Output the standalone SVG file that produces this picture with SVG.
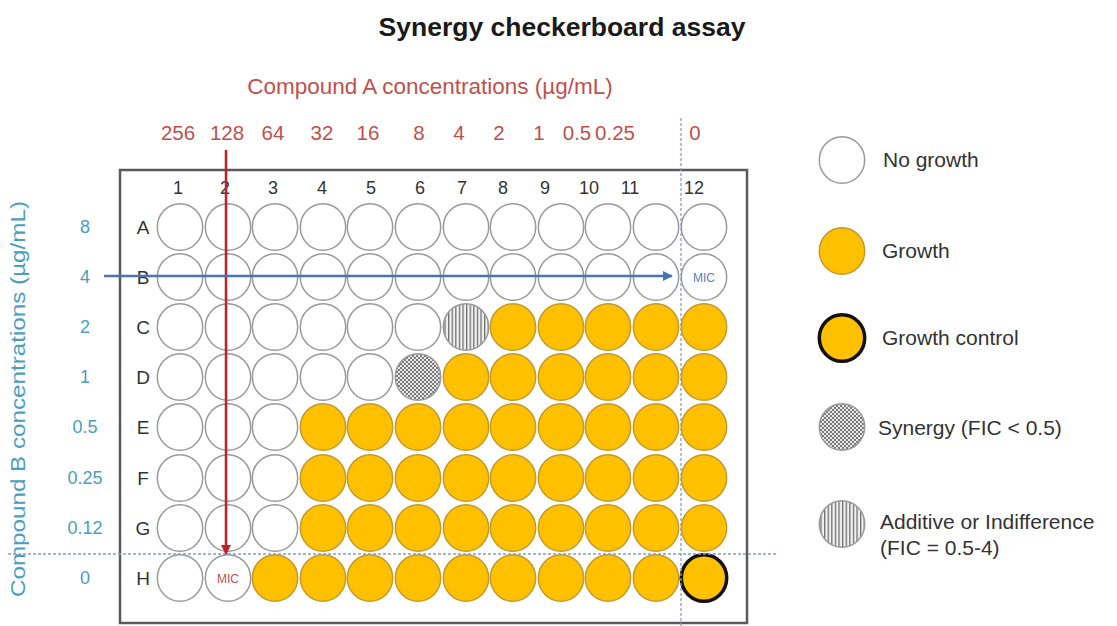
<svg xmlns="http://www.w3.org/2000/svg" xmlns:xlink="http://www.w3.org/1999/xlink" width="1117" height="626" viewBox="0 0 1117 626">
<style>
text{font-family:"Liberation Sans",Arial,sans-serif}
.title{font-size:26.5px;font-weight:bold;fill:#1a1a1a}
.red{fill:#C0504D}
.teal{fill:#4A9EBF}
.ca{font-size:22.5px}
.cn{font-size:20.5px;text-anchor:middle}
.col{font-size:18px;text-anchor:middle;fill:#333}
.row{font-size:19px;text-anchor:middle;fill:#333}
.bc{font-size:18px;text-anchor:middle}
.leg{font-size:21px;fill:#333}
.w{fill:#fff;stroke:#9a9a9a;stroke-width:1.5}
.y{fill:#FFC000;stroke:#C39A2E;stroke-width:1.5}
.ctrl{fill:#FFC000;stroke:#151010;stroke-width:3.5}
.syn{fill:url(#checks);stroke:#9a9a9a;stroke-width:1.5}
.add{fill:url(#vlines);stroke:#9a9a9a;stroke-width:1.5}
.mic{font-size:12px;text-anchor:middle}
.dash{stroke:#8c9bbd;stroke-width:1.3;stroke-dasharray:3 2;fill:none}
</style>
<defs>
<ellipse id="e" cx="0" cy="0" rx="22.7" ry="23.3"/>
<pattern id="checks" width="4" height="4" patternUnits="userSpaceOnUse">
<rect width="4" height="4" fill="#e8e8e8"/>
<rect width="2" height="2" fill="#7a7a7a"/>
<rect x="2" y="2" width="2" height="2" fill="#7a7a7a"/>
</pattern>
<pattern id="vlines" width="3.6" height="10" patternUnits="userSpaceOnUse">
<rect width="3.6" height="10" fill="#f2f2f2"/>
<rect width="1.3" height="10" fill="#6e6e6e"/>
</pattern>
<marker id="ar" viewBox="0 0 10 10" refX="9" refY="5" markerWidth="4" markerHeight="4" orient="auto" markerUnits="strokeWidth">
<path d="M0,0 L10,5 L0,10 z" fill="#C0202A"/>
</marker>
<marker id="ab" viewBox="0 0 10 10" refX="9" refY="5" markerWidth="4" markerHeight="4" orient="auto" markerUnits="strokeWidth">
<path d="M0,0 L10,5 L0,10 z" fill="#4A74B8"/>
</marker>
</defs>
<rect width="1117" height="626" fill="#fff"/>

<text class="title" x="562" y="36" text-anchor="middle">Synergy checkerboard assay</text>
<text class="ca red" x="430" y="94" text-anchor="middle">Compound A concentrations (µg/mL)</text>

<g id="concA" class="red">
<text class="cn" x="178" y="140">256</text>
<text class="cn" x="227" y="140">128</text>
<text class="cn" x="273" y="140">64</text>
<text class="cn" x="322" y="140">32</text>
<text class="cn" x="368" y="140">16</text>
<text class="cn" x="419" y="140">8</text>
<text class="cn" x="459" y="140">4</text>
<text class="cn" x="499" y="140">2</text>
<text class="cn" x="539" y="140">1</text>
<text class="cn" x="577" y="140">0.5</text>
<text class="cn" x="615" y="140">0.25</text>
<text class="cn" x="695" y="140">0</text>
</g>

<text class="teal" x="0" y="0" font-size="21" text-anchor="middle" textLength="396" lengthAdjust="spacingAndGlyphs" transform="translate(25,399) rotate(-90)">Compound B concentrations (µg/mL)</text>
<g id="concB" class="teal">
<text class="bc" x="85" y="233">8</text>
<text class="bc" x="85" y="283">4</text>
<text class="bc" x="85" y="333">2</text>
<text class="bc" x="85" y="383">1</text>
<text class="bc" x="85" y="433">0.5</text>
<text class="bc" x="85" y="484">0.25</text>
<text class="bc" x="85" y="534">0.12</text>
<text class="bc" x="85" y="584">0</text>
</g>

<rect id="plate" x="120" y="170" width="627" height="453" fill="none" stroke="#5a5a5a" stroke-width="2.5"/>

<g id="colnums">
<text class="col" x="178" y="194">1</text>
<text class="col" x="225" y="194">2</text>
<text class="col" x="273" y="194">3</text>
<text class="col" x="322" y="194">4</text>
<text class="col" x="371" y="194">5</text>
<text class="col" x="420" y="194">6</text>
<text class="col" x="462" y="194">7</text>
<text class="col" x="503" y="194">8</text>
<text class="col" x="545" y="194">9</text>
<text class="col" x="589" y="194">10</text>
<text class="col" x="630" y="194">11</text>
<text class="col" x="694" y="194">12</text>
</g>
<g id="rowletters">
<text class="row" x="143" y="234">A</text>
<text class="row" x="143" y="284">B</text>
<text class="row" x="143" y="334">C</text>
<text class="row" x="143" y="384">D</text>
<text class="row" x="143" y="434">E</text>
<text class="row" x="143" y="485">F</text>
<text class="row" x="143" y="535">G</text>
<text class="row" x="143" y="585">H</text>
</g>

<g id="wells">
<g id="A1"><use href="#e" class="w" x="180" y="227"/></g>
<g id="A2"><use href="#e" class="w" x="228" y="227"/></g>
<g id="A3"><use href="#e" class="w" x="275" y="227"/></g>
<g id="A4"><use href="#e" class="w" x="323" y="227"/></g>
<g id="A5"><use href="#e" class="w" x="370" y="227"/></g>
<g id="A6"><use href="#e" class="w" x="418" y="227"/></g>
<g id="A7"><use href="#e" class="w" x="466" y="227"/></g>
<g id="A8"><use href="#e" class="w" x="513" y="227"/></g>
<g id="A9"><use href="#e" class="w" x="561" y="227"/></g>
<g id="A10"><use href="#e" class="w" x="608" y="227"/></g>
<g id="A11"><use href="#e" class="w" x="656" y="227"/></g>
<g id="A12"><use href="#e" class="w" x="704" y="227"/></g>

<g id="B1"><use href="#e" class="w" x="180" y="277"/></g>
<g id="B2"><use href="#e" class="w" x="228" y="277"/></g>
<g id="B3"><use href="#e" class="w" x="275" y="277"/></g>
<g id="B4"><use href="#e" class="w" x="323" y="277"/></g>
<g id="B5"><use href="#e" class="w" x="370" y="277"/></g>
<g id="B6"><use href="#e" class="w" x="418" y="277"/></g>
<g id="B7"><use href="#e" class="w" x="466" y="277"/></g>
<g id="B8"><use href="#e" class="w" x="513" y="277"/></g>
<g id="B9"><use href="#e" class="w" x="561" y="277"/></g>
<g id="B10"><use href="#e" class="w" x="608" y="277"/></g>
<g id="B11"><use href="#e" class="w" x="656" y="277"/></g>
<g id="B12"><use href="#e" class="w" x="704" y="277"/><text class="mic" x="704" y="282" fill="#5B7FB3">MIC</text></g>

<g id="C1"><use href="#e" class="w" x="180" y="327"/></g>
<g id="C2"><use href="#e" class="w" x="228" y="327"/></g>
<g id="C3"><use href="#e" class="w" x="275" y="327"/></g>
<g id="C4"><use href="#e" class="w" x="323" y="327"/></g>
<g id="C5"><use href="#e" class="w" x="370" y="327"/></g>
<g id="C6"><use href="#e" class="w" x="418" y="327"/></g>
<g id="C7"><use href="#e" class="add" x="466" y="327"/></g>
<g id="C8"><use href="#e" class="y" x="513" y="327"/></g>
<g id="C9"><use href="#e" class="y" x="561" y="327"/></g>
<g id="C10"><use href="#e" class="y" x="608" y="327"/></g>
<g id="C11"><use href="#e" class="y" x="656" y="327"/></g>
<g id="C12"><use href="#e" class="y" x="704" y="327"/></g>

<g id="D1"><use href="#e" class="w" x="180" y="377"/></g>
<g id="D2"><use href="#e" class="w" x="228" y="377"/></g>
<g id="D3"><use href="#e" class="w" x="275" y="377"/></g>
<g id="D4"><use href="#e" class="w" x="323" y="377"/></g>
<g id="D5"><use href="#e" class="w" x="370" y="377"/></g>
<g id="D6"><use href="#e" class="syn" x="418" y="377"/></g>
<g id="D7"><use href="#e" class="y" x="466" y="377"/></g>
<g id="D8"><use href="#e" class="y" x="513" y="377"/></g>
<g id="D9"><use href="#e" class="y" x="561" y="377"/></g>
<g id="D10"><use href="#e" class="y" x="608" y="377"/></g>
<g id="D11"><use href="#e" class="y" x="656" y="377"/></g>
<g id="D12"><use href="#e" class="y" x="704" y="377"/></g>

<g id="E1"><use href="#e" class="w" x="180" y="427"/></g>
<g id="E2"><use href="#e" class="w" x="228" y="427"/></g>
<g id="E3"><use href="#e" class="w" x="275" y="427"/></g>
<g id="E4"><use href="#e" class="y" x="323" y="427"/></g>
<g id="E5"><use href="#e" class="y" x="370" y="427"/></g>
<g id="E6"><use href="#e" class="y" x="418" y="427"/></g>
<g id="E7"><use href="#e" class="y" x="466" y="427"/></g>
<g id="E8"><use href="#e" class="y" x="513" y="427"/></g>
<g id="E9"><use href="#e" class="y" x="561" y="427"/></g>
<g id="E10"><use href="#e" class="y" x="608" y="427"/></g>
<g id="E11"><use href="#e" class="y" x="656" y="427"/></g>
<g id="E12"><use href="#e" class="y" x="704" y="427"/></g>

<g id="F1"><use href="#e" class="w" x="180" y="478"/></g>
<g id="F2"><use href="#e" class="w" x="228" y="478"/></g>
<g id="F3"><use href="#e" class="w" x="275" y="478"/></g>
<g id="F4"><use href="#e" class="y" x="323" y="478"/></g>
<g id="F5"><use href="#e" class="y" x="370" y="478"/></g>
<g id="F6"><use href="#e" class="y" x="418" y="478"/></g>
<g id="F7"><use href="#e" class="y" x="466" y="478"/></g>
<g id="F8"><use href="#e" class="y" x="513" y="478"/></g>
<g id="F9"><use href="#e" class="y" x="561" y="478"/></g>
<g id="F10"><use href="#e" class="y" x="608" y="478"/></g>
<g id="F11"><use href="#e" class="y" x="656" y="478"/></g>
<g id="F12"><use href="#e" class="y" x="704" y="478"/></g>

<g id="G1"><use href="#e" class="w" x="180" y="528"/></g>
<g id="G2"><use href="#e" class="w" x="228" y="528"/></g>
<g id="G3"><use href="#e" class="w" x="275" y="528"/></g>
<g id="G4"><use href="#e" class="y" x="323" y="528"/></g>
<g id="G5"><use href="#e" class="y" x="370" y="528"/></g>
<g id="G6"><use href="#e" class="y" x="418" y="528"/></g>
<g id="G7"><use href="#e" class="y" x="466" y="528"/></g>
<g id="G8"><use href="#e" class="y" x="513" y="528"/></g>
<g id="G9"><use href="#e" class="y" x="561" y="528"/></g>
<g id="G10"><use href="#e" class="y" x="608" y="528"/></g>
<g id="G11"><use href="#e" class="y" x="656" y="528"/></g>
<g id="G12"><use href="#e" class="y" x="704" y="528"/></g>

<g id="H1"><use href="#e" class="w" x="180" y="578"/></g>
<g id="H2"><use href="#e" class="w" x="228" y="578"/><text class="mic red" x="228" y="583">MIC</text></g>
<g id="H3"><use href="#e" class="y" x="275" y="578"/></g>
<g id="H4"><use href="#e" class="y" x="323" y="578"/></g>
<g id="H5"><use href="#e" class="y" x="370" y="578"/></g>
<g id="H6"><use href="#e" class="y" x="418" y="578"/></g>
<g id="H7"><use href="#e" class="y" x="466" y="578"/></g>
<g id="H8"><use href="#e" class="y" x="513" y="578"/></g>
<g id="H9"><use href="#e" class="y" x="561" y="578"/></g>
<g id="H10"><use href="#e" class="y" x="608" y="578"/></g>
<g id="H11"><use href="#e" class="y" x="656" y="578"/></g>
<g id="H12"><use href="#e" class="ctrl" x="704" y="578"/></g>
</g>

<g id="connectors">
<line class="dash" x1="681" y1="118" x2="681" y2="626"/>
<line class="dash" x1="8" y1="554" x2="776" y2="554"/>
<line x1="226" y1="150" x2="226" y2="554" stroke="#C0202A" stroke-width="2.5" marker-end="url(#ar)"/>
<line x1="104" y1="276" x2="672" y2="276" stroke="#4A74B8" stroke-width="2.5" marker-end="url(#ab)"/>
</g>

<g id="legend">
<g id="leg-nogrowth"><use href="#e" class="w" x="842" y="160"/><text class="leg" x="883" y="167">No growth</text></g>
<g id="leg-growth"><use href="#e" class="y" x="842" y="251"/><text class="leg" x="882" y="258">Growth</text></g>
<g id="leg-control"><use href="#e" class="ctrl" x="842" y="338"/><text class="leg" x="882" y="345">Growth control</text></g>
<g id="leg-synergy"><use href="#e" class="syn" x="842" y="427"/><text class="leg" x="878" y="435">Synergy (FIC &lt; 0.5)</text></g>
<g id="leg-additive"><use href="#e" class="add" x="842" y="524"/><text class="leg" x="880" y="529">Additive or Indifference</text><text class="leg" x="880" y="555">(FIC = 0.5-4)</text></g>
</g>
</svg>
